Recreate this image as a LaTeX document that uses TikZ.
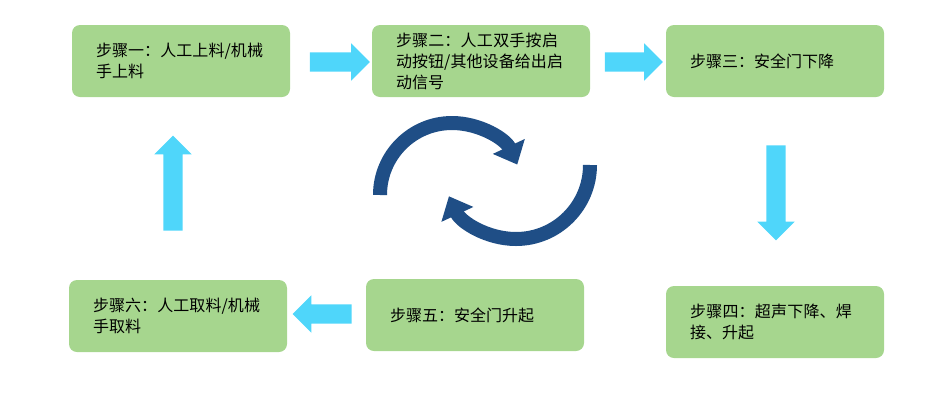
\documentclass[tikz,border=0pt]{standalone}
\usepackage{fontspec}
\newfontfamily\cjk{Noto Sans CJK SC}
\XeTeXlinebreaklocale "zh"
\XeTeXlinebreakskip = 0pt plus 1pt
\usetikzlibrary{shapes.arrows,arrows.meta}
\definecolor{stepgreen}{HTML}{A6D68E}
\definecolor{flowcyan}{HTML}{4FD6FA}
\definecolor{cycleblue}{HTML}{1F4E86}
\tikzset{
    stepbox/.style={draw=none, fill=stepgreen, rounded corners=8pt, minimum width=218pt, minimum height=72pt, text width=170pt, align=left, font=\cjk\fontsize{16pt}{21pt}\selectfont},
    flow/.style={single arrow, draw=none, fill=flowcyan, single arrow head indent=0pt, inner sep=0pt, single arrow head extend=9pt}
}
\newcommand{\shaft}{\rule{0pt}{19pt}}
\begin{document}
\begin{tikzpicture}[x=1pt, y=-1pt]
    \useasboundingbox (0,0) rectangle (930,400);
    % Steps
    \node[stepbox] (s1) at (181,61) {步骤一：人工上料/机械手上料};
    \node[stepbox] (s2) at (481,61) {步骤二：人工双手按启动按钮/其他设备给出启动信号};
    \node[stepbox] (s3) at (775,61) {步骤三：安全门下降};
    \node[stepbox] (s4) at (775,322) {步骤四：超声下降、焊接、升起};
    \node[stepbox] (s5) at (475,315) {步骤五：安全门升起};
    \node[stepbox] (s6) at (178,316) {步骤六：人工取料/机械手取料};

    % Flow arrows
    \node[flow, minimum height=60pt] (a1) at (335,62) {\shaft};
    \node[flow, minimum height=58pt] (a2) at (629,62) {\shaft};
    \node[flow, minimum height=95pt, rotate=-90] (a3) at (776,188) {\shaft};
    \node[flow, minimum height=59pt, rotate=180] (a4) at (327,314) {\shaft};
    \node[flow, minimum height=95pt, rotate=90] (a5) at (173,188) {\shaft};

    % Cycle
    \draw[cycleblue, line width=14pt, -{Triangle[width=34pt,length=20pt]}]
        (380,195) arc[start angle=180, end angle=335, radius=72];
    \draw[cycleblue, line width=14pt, -{Triangle[width=34pt,length=20pt]}]
        (590,165) arc[start angle=0, end angle=155, radius=74];
\end{tikzpicture}
\end{document}
